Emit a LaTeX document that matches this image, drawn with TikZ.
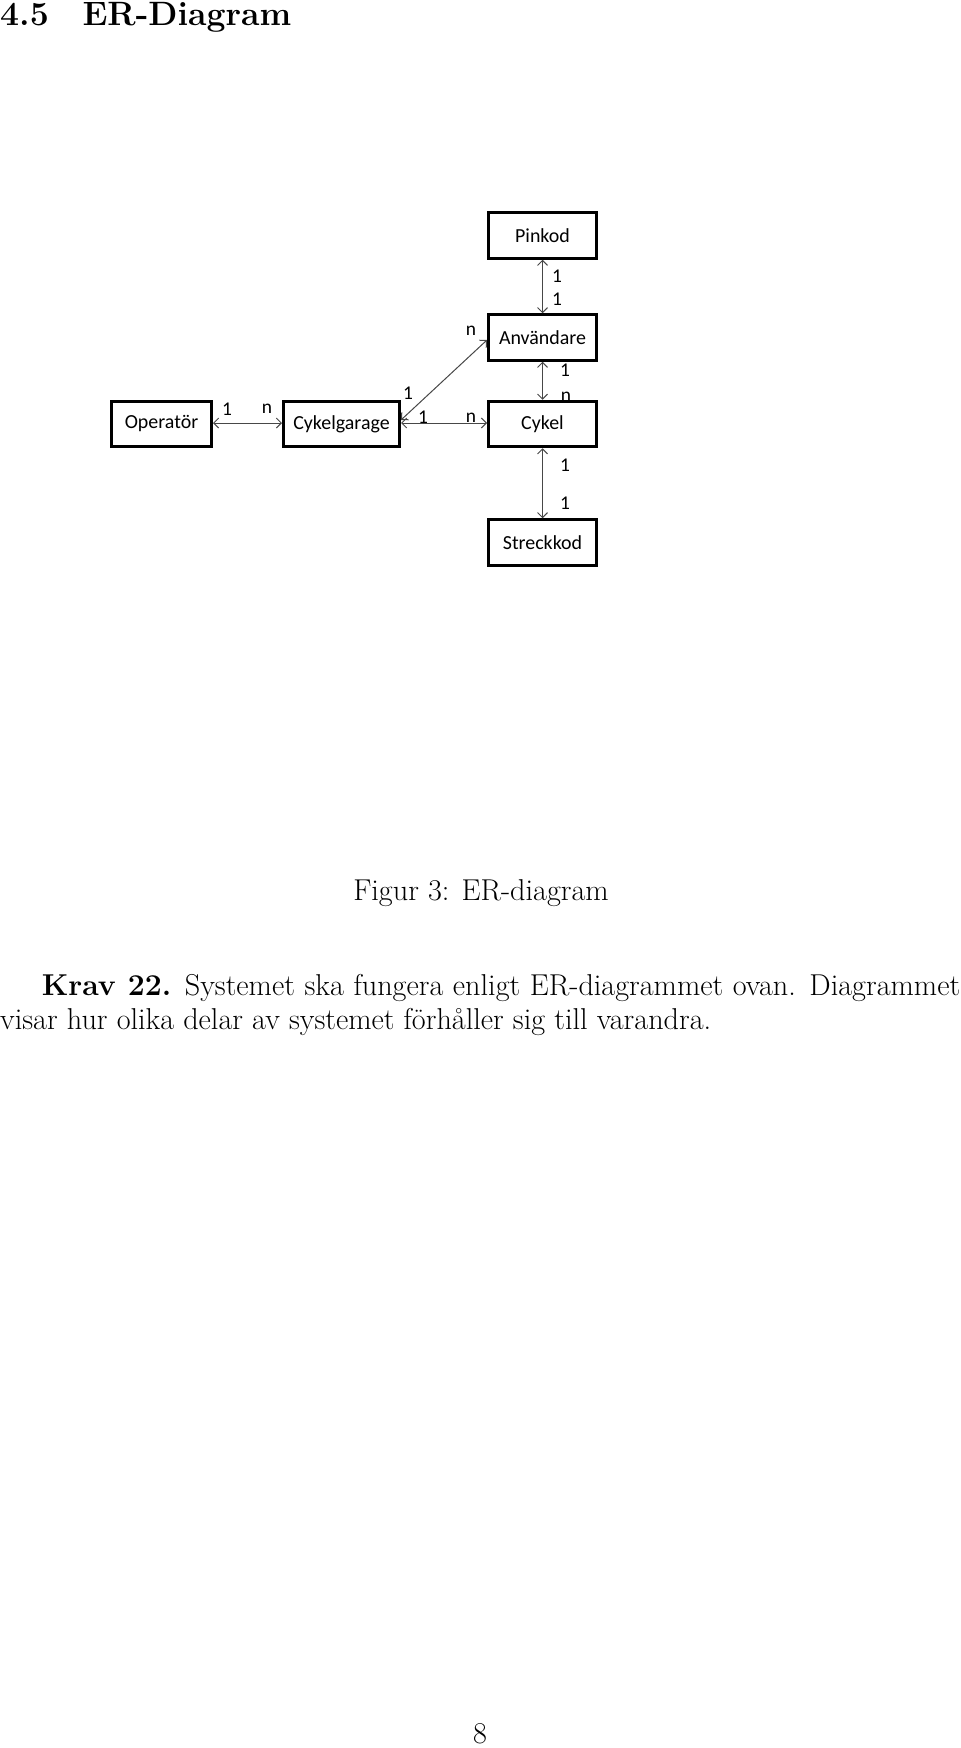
\documentclass[tikz,border=0pt]{standalone}
\usepackage{fontspec}
\newfontfamily\carl{Carlito}
\usetikzlibrary{arrows.meta}
\begin{document}
\begin{tikzpicture}[x=1bp,y=-1bp,
  ent/.style={draw=black,line width=3bp,inner sep=0pt,minimum height=45.5bp,font=\carl\fontsize{20}{23}\selectfont},
  rel/.style={draw=black!72,line width=1bp,{Straight Barb[length=5bp,width=10bp]}-{Straight Barb[length=5bp,width=10bp]}},
  card/.style={inner sep=0pt,font=\carl\fontsize{19.5}{21}\selectfont},
  txt/.style={inner sep=0pt,anchor=base west,font=\fontsize{30.3}{36}\selectfont}]
\path[use as bounding box] (0,0) rectangle (960,1748);

% heading
\node[inner sep=0pt,anchor=base west,font=\fontsize{33.9}{40}\selectfont\bfseries] (head) at (0,25) {4.5\quad ER-Diagram};

% cardinalities (drawn first so boxes overlap them)
\node[card] (c1) at (557,276) {1};
\node[card] (c2) at (557,299) {1};
\node[card] (c3) at (565,370) {1};
\node[card] (c4) at (566,396.5) {n};
\node[card] (c5) at (565,465) {1};
\node[card] (c6) at (565,503) {1};
\node[card] (c7) at (471,331) {n};
\node[card] (c8) at (408,393) {1};
\node[card] (c9) at (423,417) {1};
\node[card] (c10) at (471,418) {n};
\node[card] (c11) at (227,409) {1};
\node[card] (c12) at (267,409) {n};

% entities
\node[ent,minimum width=108bp] (pin) at (542.5,235.5) {Pinkod};
\node[ent,minimum width=108bp] (anv) at (542.5,337.5) {Användare};
\node[ent,minimum width=108bp,fill=white] (cyk) at (542.5,424) {Cykel};
\node[ent,minimum width=108bp] (str) at (542.5,542.5) {Streckkod};
\node[ent,minimum width=100bp] (op) at (161.5,424) {Operatör};
\node[ent,minimum width=116bp] (cg) at (341.5,424) {Cykelgarage};

% relations
\draw[rel] ([yshift=1bp]op.east) -- ([yshift=1bp]cg.west);
\draw[rel] ([yshift=1bp]cg.east) -- ([yshift=1bp]cyk.west);
\draw[rel] ([yshift=4bp]cg.east) -- ([yshift=-2.5bp]anv.west);
\draw[rel] (pin.south) -- (anv.north);
\draw[rel] (anv.south) -- (cyk.north);
\draw[rel] (cyk.south) -- (str.north);

% caption and text
\node[inner sep=0pt,anchor=base,font=\fontsize{30.3}{36}\selectfont] (cap) at (481,900.5) {Figur 3: ER-diagram};
\node[txt] (l1) at (41.7,995.6) {\makebox[918.3bp][s]{\textbf{Krav 22.} Systemet ska fungera enligt ER-diagrammet ovan. Diagrammet}};
\node[txt] (l2) at (0,1029) {visar hur olika delar av systemet förhåller sig till varandra.};
\node[inner sep=0pt,anchor=base,font=\fontsize{30.3}{36}\selectfont] (pg) at (480,1743) {8};
\end{tikzpicture}
\end{document}
